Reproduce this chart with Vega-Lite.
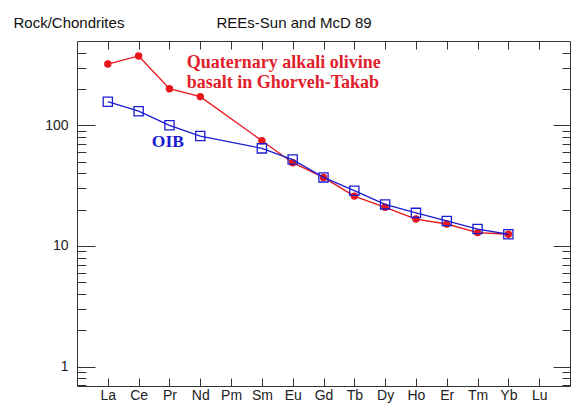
{
  "$schema": "https://vega.github.io/schema/vega-lite/v6.json",
  "width": 493,
  "height": 345,
  "autosize": {"type": "none"},
  "padding": {"left": 77, "top": 41, "right": 1, "bottom": 23},
  "background": "white",
  "config": {
    "view": {"stroke": "#333", "strokeWidth": 1},
    "axis": {"domain": false, "grid": false, "tickColor": "#333", "tickWidth": 1, "labelColor": "#222", "labelFont": "Liberation Sans", "labelFontSize": 14, "titleFont": "Liberation Sans", "titleFontSize": 15, "titleFontWeight": "normal", "titleColor": "#111"}
  },
  "datasets": {
    "ree": [
      {"n": 1, "el": "La", "series": "basalt", "value": 322},
      {"n": 2, "el": "Ce", "series": "basalt", "value": 376},
      {"n": 3, "el": "Pr", "series": "basalt", "value": 201},
      {"n": 4, "el": "Nd", "series": "basalt", "value": 173},
      {"n": 6, "el": "Sm", "series": "basalt", "value": 74.5},
      {"n": 7, "el": "Eu", "series": "basalt", "value": 49},
      {"n": 8, "el": "Gd", "series": "basalt", "value": 37},
      {"n": 9, "el": "Tb", "series": "basalt", "value": 25.9},
      {"n": 10, "el": "Dy", "series": "basalt", "value": 20.9},
      {"n": 11, "el": "Ho", "series": "basalt", "value": 16.7},
      {"n": 12, "el": "Er", "series": "basalt", "value": 15.2},
      {"n": 13, "el": "Tm", "series": "basalt", "value": 12.9},
      {"n": 14, "el": "Yb", "series": "basalt", "value": 12.5},
      {"n": 1, "el": "La", "series": "OIB", "value": 157},
      {"n": 2, "el": "Ce", "series": "OIB", "value": 131},
      {"n": 3, "el": "Pr", "series": "OIB", "value": 100},
      {"n": 4, "el": "Nd", "series": "OIB", "value": 81.5},
      {"n": 6, "el": "Sm", "series": "OIB", "value": 64.4},
      {"n": 7, "el": "Eu", "series": "OIB", "value": 52},
      {"n": 8, "el": "Gd", "series": "OIB", "value": 37},
      {"n": 9, "el": "Tb", "series": "OIB", "value": 28.7},
      {"n": 10, "el": "Dy", "series": "OIB", "value": 22.1},
      {"n": 11, "el": "Ho", "series": "OIB", "value": 18.8},
      {"n": 12, "el": "Er", "series": "OIB", "value": 16.1},
      {"n": 13, "el": "Tm", "series": "OIB", "value": 13.8},
      {"n": 14, "el": "Yb", "series": "OIB", "value": 12.5}
    ],
    "notes": [
      {"series": "basalt", "n": 3.56, "value": 296, "label": "Quaternary alkali olivine"},
      {"series": "basalt", "n": 3.56, "value": 205, "label": "basalt in Ghorveh-Takab"},
      {"series": "OIB", "n": 2.43, "value": 66, "label": "OIB"}
    ]
  },
  "resolve": {"axis": {"x": "independent", "y": "independent"}},
  "layer": [
    {
      "data": {"name": "ree"},
      "transform": [{"filter": "datum.series === 'basalt'"}],
      "mark": {"type": "line", "color": "#e8161b", "strokeWidth": 1.3},
      "encoding": {
        "x": {"field": "n", "type": "quantitative", "scale": {"domain": [0, 16], "nice": false, "zero": false},
          "axis": {"orient": "bottom", "values": [1,2,3,4,5,6,7,8,9,10,11,12,13,14,15], "tickSize": -8, "labelPadding": 10,
            "labelExpr": "['','La','Ce','Pr','Nd','Pm','Sm','Eu','Gd','Tb','Dy','Ho','Er','Tm','Yb','Lu'][datum.value]",
            "title": null}},
        "y": {"field": "value", "type": "quantitative", "scale": {"type": "log", "domain": [0.69, 500], "nice": false},
          "axis": {"orient": "left", "values": [1, 10, 100], "tickSize": -18, "labelPadding": 27, "format": "~g",
            "title": "Rock/Chondrites", "titleAngle": 0, "titleAlign": "left", "titleBaseline": "alphabetic", "titleX": -64, "titleY": -14}}
      }
    },
    {
      "data": {"name": "ree"},
      "transform": [{"filter": "datum.series === 'basalt'"}],
      "mark": {"type": "point", "shape": "circle", "filled": true, "color": "#e8161b", "size": 55, "opacity": 1},
      "encoding": {
        "x": {"field": "n", "type": "quantitative",
          "axis": {"orient": "top", "values": [1,2,3,4,5,6,7,8,9,10,11,12,13,14,15], "tickSize": -8, "labels": false,
            "title": "REEs-Sun and McD 89", "titleAlign": "left", "titleBaseline": "alphabetic", "titleX": 139, "titleY": -14}},
        "y": {"field": "value", "type": "quantitative",
          "axis": {"orient": "left", "values": [0.7,0.8,0.9,2,3,4,5,6,7,8,9,20,30,40,50,60,70,80,90,200,300,400], "tickSize": -9, "labels": false, "title": null}}
      }
    },
    {
      "data": {"name": "ree"},
      "transform": [{"filter": "datum.series === 'OIB'"}],
      "mark": {"type": "line", "color": "#1c1cd0", "strokeWidth": 1.3},
      "encoding": {
        "x": {"field": "n", "type": "quantitative", "axis": null},
        "y": {"field": "value", "type": "quantitative",
          "axis": {"orient": "right", "values": [1, 10, 100], "tickSize": -17, "labels": false, "title": null}}
      }
    },
    {
      "data": {"name": "ree"},
      "transform": [{"filter": "datum.series === 'OIB'"}],
      "mark": {"type": "point", "shape": "square", "filled": false, "color": "#1c1cd0", "size": 85, "strokeWidth": 1.3, "opacity": 1},
      "encoding": {
        "x": {"field": "n", "type": "quantitative", "axis": null},
        "y": {"field": "value", "type": "quantitative",
          "axis": {"orient": "right", "values": [0.7,0.8,0.9,2,3,4,5,6,7,8,9,20,30,40,50,60,70,80,90,200,300,400], "tickSize": -8, "labels": false, "title": null}}
      }
    },
    {
      "data": {"name": "notes"},
      "transform": [{"filter": "datum.series === 'basalt'"}],
      "mark": {"type": "text", "align": "left", "baseline": "alphabetic", "font": "Liberation Serif", "fontWeight": "bold", "fontSize": 18, "color": "#e0202a"},
      "encoding": {
        "x": {"field": "n", "type": "quantitative", "axis": null},
        "y": {"field": "value", "type": "quantitative", "axis": null},
        "text": {"field": "label"}
      }
    },
    {
      "data": {"name": "notes"},
      "transform": [{"filter": "datum.series === 'OIB'"}],
      "mark": {"type": "text", "align": "left", "baseline": "alphabetic", "font": "Liberation Serif", "fontWeight": "bold", "fontSize": 17.5, "color": "#1a1ad0"},
      "encoding": {
        "x": {"field": "n", "type": "quantitative", "axis": null},
        "y": {"field": "value", "type": "quantitative", "axis": null},
        "text": {"field": "label"}
      }
    }
  ]
}
